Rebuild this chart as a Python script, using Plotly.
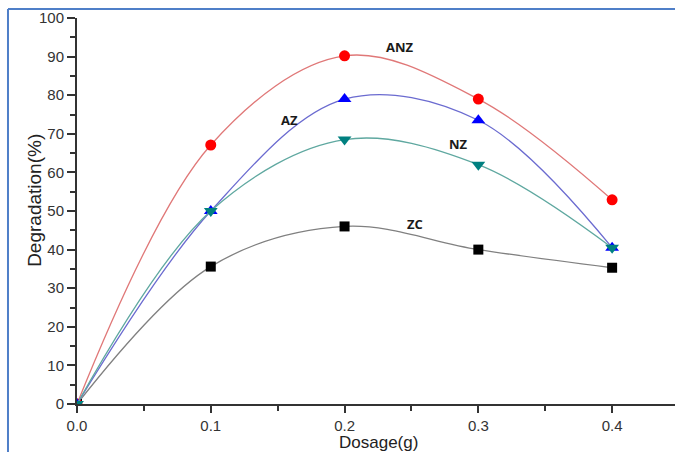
import plotly.graph_objects as go

dosage = [0.0, 0.1, 0.2, 0.3, 0.4]
anz = [0.0, 67.1, 90.2, 79.0, 52.9]
az = [0.0, 50.0, 79.0, 73.5, 40.5]
nz = [0.0, 50.0, 68.5, 62.0, 40.5]
zc = [0.0, 35.6, 46.0, 40.0, 35.3]

series = [
    ("ZC", zc, "#808080", "#000000", "square", 10),
    ("ANZ", anz, "#e07878", "#ff0000", "circle", 11),
    ("AZ", az, "#6b6bd0", "#0000ff", "triangle-up", 12),
    ("NZ", nz, "#5fa8a0", "#008080", "triangle-down", 12),
]

label_pos = {"ANZ": (0.2415, 92.5), "AZ": (0.1585, 73.6), "NZ": (0.2848, 67.4), "ZC": (0.2527, 46.6)}

fig = go.Figure()
for name, vals, lc, mc, sym, sz in series:
    fig.add_trace(go.Scatter(
        x=dosage, y=vals, mode="lines+markers", name=name,
        line=dict(color=lc, width=1.3, shape="spline", smoothing=1.0),
        marker=dict(color=mc, symbol=sym, size=sz, line=dict(width=0)),
        cliponaxis=True,
    ))

for name, (lx, ly) in label_pos.items():
    fig.add_annotation(x=lx, y=ly, text="<b>%s</b>" % name, showarrow=False,
                       font=dict(family="Open Sans", size=13, color="#1a1a1a"))

fig.add_annotation(xref="paper", yref="paper", x=-0.092, y=0.705, text="Degradation(%)",
                   textangle=-90, showarrow=False,
                   font=dict(family="Liberation Sans Narrow, Liberation Sans", size=19, color="#222222"))
fig.add_annotation(xref="paper", yref="paper", x=0.505, y=-0.1, text="Dosage(g)",
                   showarrow=False, yanchor="middle",
                   font=dict(family="Liberation Sans", size=17, color="#222222"))

border = "#4f7fc8"
fig.add_shape(type="line", xref="paper", yref="paper", x0=-0.1154, x1=-0.1154, y0=-0.2, y1=1.0233,
              line=dict(color=border, width=2))
fig.add_shape(type="line", xref="paper", yref="paper", x0=-0.1154, x1=1.1, y0=1.0233, y1=1.0233,
              line=dict(color=border, width=2))

axis_font = dict(family="Liberation Sans", size=15, color="#333333")
fig.update_layout(
    width=675, height=452,
    margin=dict(l=77, r=0, t=18, b=48),
    paper_bgcolor="white", plot_bgcolor="white",
    showlegend=False,
    xaxis=dict(range=[0, 0.447], tickvals=[0.0, 0.1, 0.2, 0.3, 0.4],
               ticktext=["0.0", "0.1", "0.2", "0.3", "0.4"],
               showgrid=False, zeroline=False, showline=True, linecolor="#333333", linewidth=2,
               ticks="outside", ticklen=7, tickwidth=2, tickcolor="#333333",
               minor=dict(dtick=0.05, ticks="outside", ticklen=5, tickwidth=2, tickcolor="#333333"),
               tickfont=axis_font),
    yaxis=dict(range=[0, 100], dtick=10, showgrid=False, zeroline=False, showline=True,
               linecolor="#333333", linewidth=2,
               ticks="outside", ticklen=8, tickwidth=2, tickcolor="#333333",
               minor=dict(dtick=5, ticks="outside", ticklen=5, tickwidth=2, tickcolor="#333333"),
               tickfont=axis_font),
)

fig.write_html("out.html")
